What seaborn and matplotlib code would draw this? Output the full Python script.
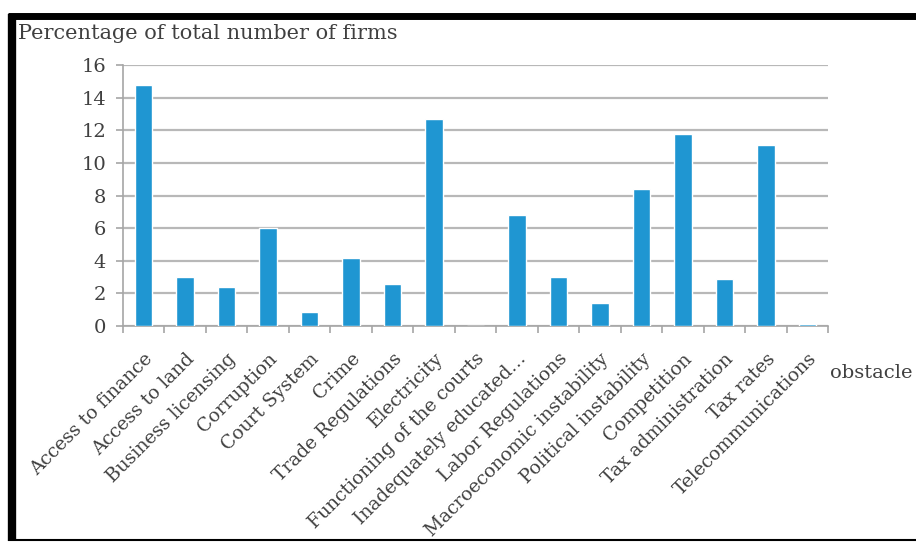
import matplotlib
matplotlib.use("Agg")
import matplotlib.pyplot as plt
import seaborn as sns
import pandas as pd
from matplotlib.lines import Line2D

categories = ["Access to finance", "Access to land", "Business licensing", "Corruption",
              "Court System", "Crime", "Trade Regulations", "Electricity",
              "Functioning of the courts", "Inadequately educated…", "Labor Regulations",
              "Macroeconomic instability", "Political instability", "Competition",
              "Tax administration", "Tax rates", "Telecommunications"]
values = [14.8, 3.0, 2.4, 6.0, 0.85, 4.2, 2.6, 12.7, 0.0, 6.8, 3.0, 1.4, 8.4, 11.8, 2.9, 11.1, 0.12]
y_ticks = [0, 2, 4, 6, 8, 10, 12, 14, 16]

df = pd.DataFrame({"obstacle": categories, "pct": values})

sns.set_theme(style="white")
plt.rcParams['font.family'] = ['DejaVu Serif']

fig = plt.figure(figsize=(9.16, 5.43), dpi=100)
ax = fig.add_axes([0.134, 0.3996, 0.770, 0.4806])

sns.barplot(data=df, x="obstacle", y="pct", color="#1f96d2", width=0.42,
            saturation=1, ax=ax, zorder=3)

ax.set_ylim(0, 16)
ax.set_xlim(-0.5, len(categories) - 0.5)
ax.set_yticks(y_ticks)
ax.yaxis.grid(True, color="#b8b8b8", linewidth=1.6, zorder=0)
ax.set_axisbelow(True)
for s in ["top", "right"]:
    ax.spines[s].set_visible(False)
ax.spines["left"].set_color("#a6a6a6")
ax.spines["bottom"].set_color("#a6a6a6")
ax.spines["left"].set_linewidth(1.2)
ax.spines["bottom"].set_linewidth(1.2)

ax.set_xticks(range(len(categories)))
ax.set_xticklabels(categories, rotation=45, ha="right", rotation_mode="anchor",
                   fontsize=13.5, color="#404040")
ax.tick_params(axis="x", which="major", length=0, pad=17)
ax.set_xticks([i - 0.5 for i in range(len(categories) + 1)], minor=True)
ax.tick_params(axis="x", which="minor", length=5, color="#a6a6a6", width=1.2, direction="out", bottom=True)
ax.tick_params(axis="y", length=5, color="#a6a6a6", width=1.2, direction="out", left=True,
               labelsize=14, labelcolor="#404040", pad=7)

ax.set_xlabel("")
ax.set_ylabel("")

fig.text(0.020, 0.939, "Percentage of total number of firms", fontsize=15,
         color="#404040", ha="left", va="center")
fig.text(0.906, 0.313, "obstacle", fontsize=14, color="#404040", ha="left", va="center")

# black frame
fig.add_artist(Line2D([0.009, 1.0], [0.970, 0.970], color="black", linewidth=5,
                      solid_capstyle="butt", transform=fig.transFigure))
fig.add_artist(Line2D([0.0135, 0.0135], [0.003, 0.974], color="black", linewidth=6,
                      solid_capstyle="butt", transform=fig.transFigure))
fig.add_artist(Line2D([0.009, 1.0], [0.005, 0.005], color="black", linewidth=1.5,
                      solid_capstyle="butt", transform=fig.transFigure))

fig.savefig("out.png", dpi=100)
